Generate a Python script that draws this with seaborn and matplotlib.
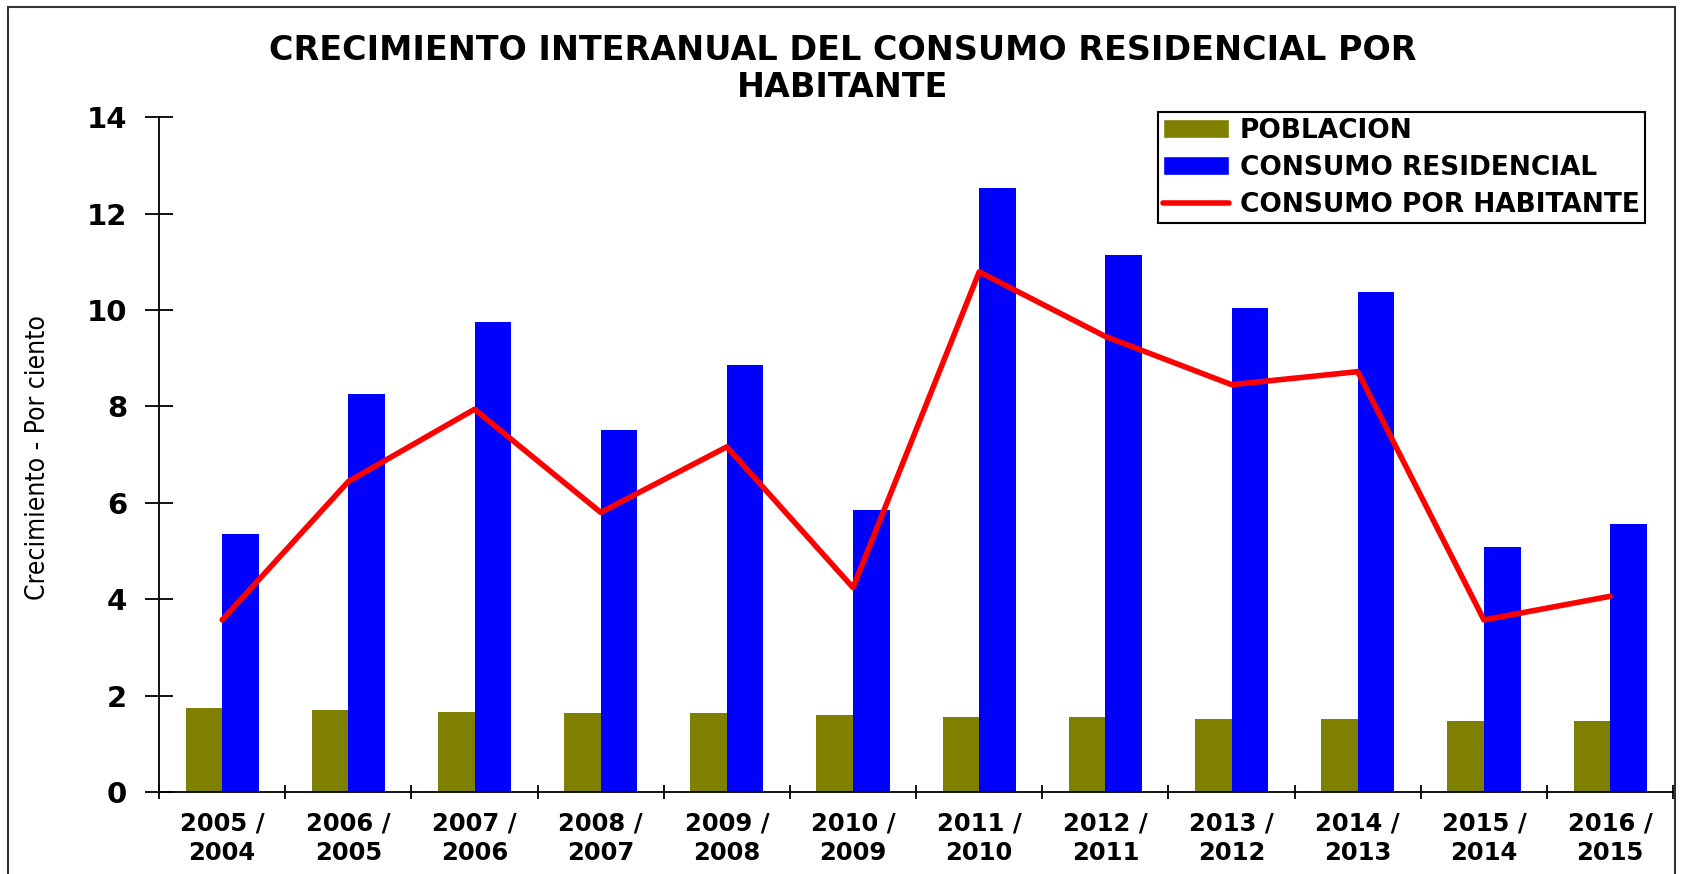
import matplotlib
matplotlib.use("Agg")
import matplotlib.pyplot as plt
from matplotlib.lines import Line2D
from matplotlib.patches import Patch, Rectangle
import numpy as np
import pandas as pd
import seaborn as sns

# datos
periodos = ["2005 /\n2004", "2006 /\n2005", "2007 /\n2006", "2008 /\n2007",
            "2009 /\n2008", "2010 /\n2009", "2011 /\n2010", "2012 /\n2011",
            "2013 /\n2012", "2014 /\n2013", "2015 /\n2014", "2016 /\n2015"]
poblacion = [1.74, 1.70, 1.67, 1.63, 1.63, 1.59, 1.56, 1.56, 1.52, 1.52, 1.48, 1.48]
residencial = [5.36, 8.25, 9.76, 7.51, 8.85, 5.86, 12.53, 11.15, 10.03, 10.37, 5.08, 5.55]
habitante = [3.57, 6.44, 7.94, 5.80, 7.16, 4.24, 10.79, 9.45, 8.45, 8.72, 3.57, 4.06]

series = ["POBLACION", "CONSUMO RESIDENCIAL"]
nombre_linea = "CONSUMO POR HABITANTE"
colores = ["#808000", "#0000FF"]
color_linea = "#FF0000"
titulo = "CRECIMIENTO INTERANUAL DEL CONSUMO RESIDENCIAL POR\nHABITANTE"

sns.set_theme(style="white")
plt.rcParams["font.family"] = ["DejaVu Sans"]
plt.rcParams["text.color"] = "black"

df = pd.DataFrame({
    "periodo": periodos * 2,
    "serie": [series[0]] * len(periodos) + [series[1]] * len(periodos),
    "valor": poblacion + residencial,
})

fig = plt.figure(figsize=(16.85, 8.74), dpi=100)
ax = fig.add_axes([0.0944, 0.0938, 0.8986, 0.7722])

sns.barplot(data=df, x="periodo", y="valor", hue="serie", hue_order=series,
            palette=colores, width=0.58, saturation=1, errorbar=None,
            linewidth=0, legend=False, ax=ax)
sns.pointplot(x=periodos, y=habitante, color=color_linea, marker="",
              linewidth=4, errorbar=None, ax=ax)

ax.set_xlim(-0.5, 11.5)
ax.set_ylim(0, 14)
ax.set_xlabel("")
ax.set_ylabel("")
ax.set_yticks(range(0, 15, 2))
ax.grid(False)
for s in ["top", "right"]:
    ax.spines[s].set_visible(False)
for s in ["left", "bottom"]:
    ax.spines[s].set_color("black")
    ax.spines[s].set_linewidth(1.3)

ax.tick_params(axis="y", left=True, direction="inout", length=20, width=1.3,
               color="black", labelsize=21, labelcolor="black", pad=13)
ax.set_xticks(np.arange(-0.5, 12, 1), minor=True)
ax.tick_params(axis="x", which="minor", bottom=True, direction="inout",
               length=10, width=1.3, color="black")
ax.tick_params(axis="x", which="major", bottom=False, length=0,
               labelsize=17.5, labelcolor="black", pad=14)
for lab in ax.get_xticklabels():
    lab.set_fontweight("bold")
    lab.set_linespacing(1.3)
for lab in ax.get_yticklabels():
    lab.set_fontweight("bold")

handles = [Patch(facecolor=colores[0]), Patch(facecolor=colores[1]),
           Line2D([], [], color=color_linea, lw=4)]
leg = ax.legend(handles, series + [nombre_linea], loc="upper right",
                bbox_to_anchor=(0.9815, 1.0074), borderaxespad=0,
                prop=dict(weight="bold", size=19), frameon=True, fancybox=False,
                edgecolor="black", framealpha=1, handlelength=2.5,
                handletextpad=0.4, labelspacing=0.42, borderpad=0.21)
leg.get_frame().set_linewidth(1.5)

fig.text(0.5, 0.921, titulo, ha="center", va="center", fontsize=24,
         fontweight="bold", linespacing=1.12)
fig.text(0.0223, 0.477, "Crecimiento - Por ciento", rotation=90, ha="center",
         va="center", fontsize=19, fontstretch="condensed",
         family=["Liberation Sans Narrow", "DejaVu Sans"])

fig.patches.append(Rectangle((0.005, -0.1), 0.989, 1.0923, transform=fig.transFigure,
                             fill=False, edgecolor="#333333", lw=1.5))

fig.savefig("out.png", dpi=100)
